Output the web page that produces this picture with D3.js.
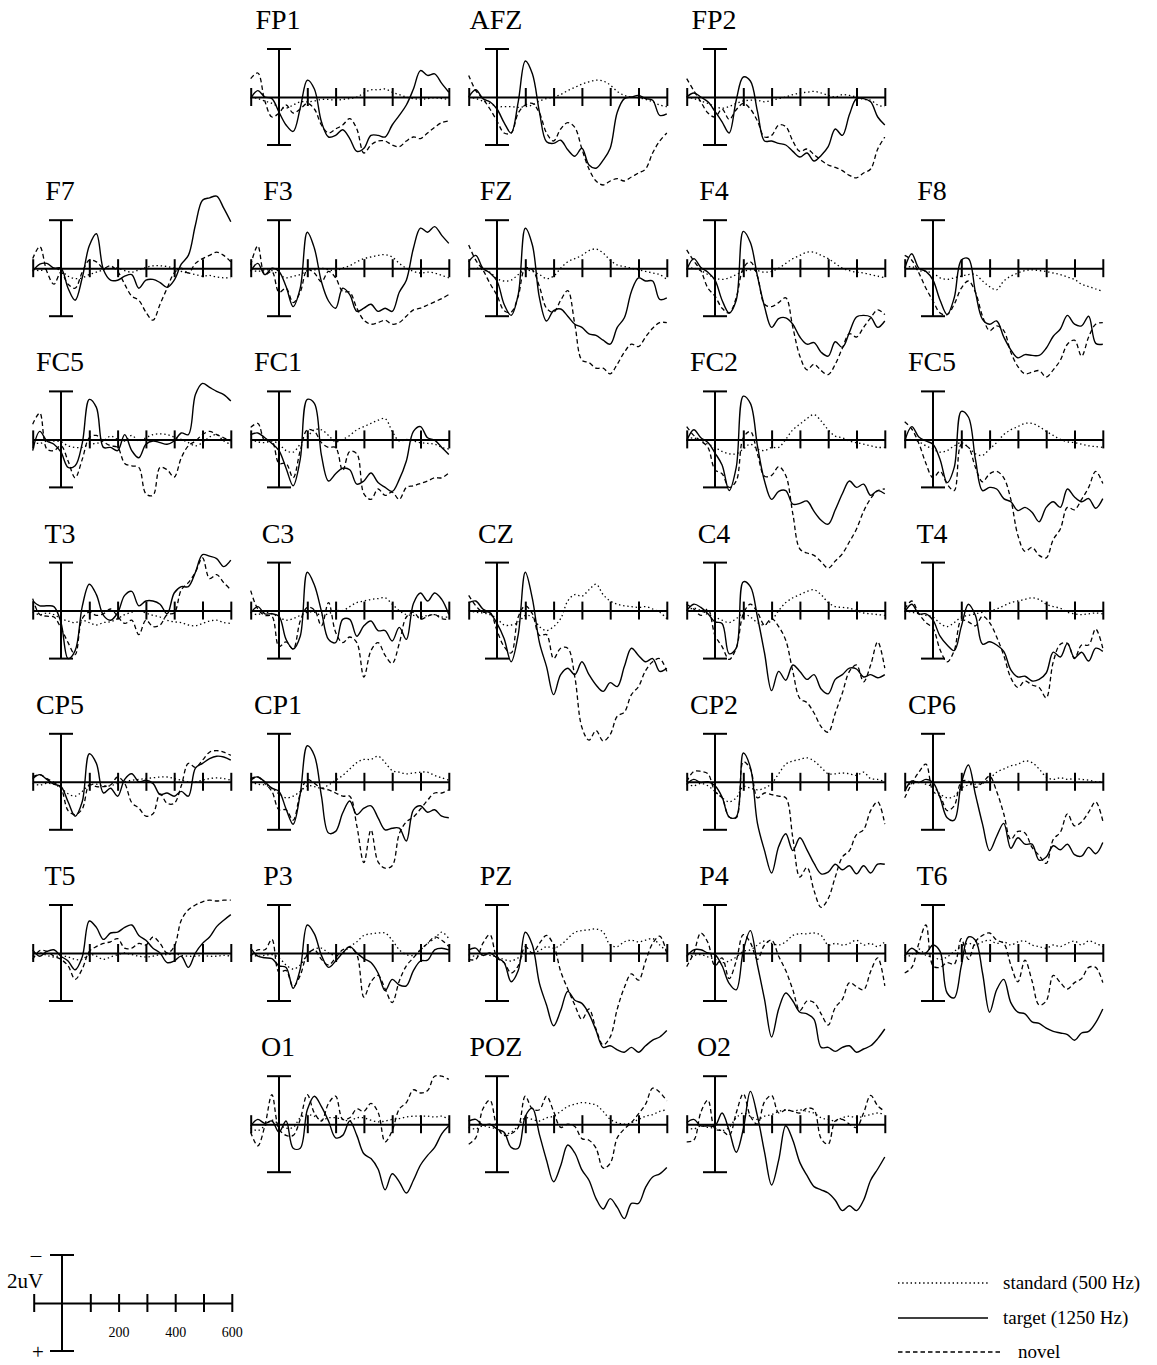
<!DOCTYPE html>
<html>
<head>
<meta charset="utf-8">
<script src="https://cdn.jsdelivr.net/npm/d3@7"></script>
<style>
  body { margin: 0; background: #fff; }
  svg { display: block; }
  text { font-family: "Liberation Serif", "Times New Roman", serif; fill: #000; }
</style>
</head>
<body>
<svg id="chart" width="1157" height="1365"></svg>
<script>
// time points (ms) shared by every curve
const times = [-100,-75,-50,-25,0,25,50,75,100,125,150,175,200,225,250,275,300,325,350,375,400,425,450,475,500,525,550,575,600];
const tickTimes = [-100,100,200,300,400,500,600];

// target (1250 Hz) - solid, uV (negative plotted up)
const target = {
  FP1: [0.2,-0.8,0,0.2,1.9,3.5,4.3,1.4,-2.1,-1.0,3.1,5.0,4.8,4.1,5.2,6.8,6.4,4.8,4.8,5.0,3.5,2.3,1.0,-1.0,-3.3,-2.7,-2.9,-1.7,-0.6],
  AFZ: [0,-0.9,0.2,0.6,1.5,3.2,4.5,0.6,-4.5,-2.9,1.9,5.6,5.8,5.4,6.6,7.4,6.4,8.5,8.9,7.9,6.4,1.9,0.2,0,-0.2,0.2,0.4,2.3,2.1],
  FP2: [0,-0.5,0,0.6,1.8,3.1,4.5,0.4,-2.5,-2.0,1.8,5.5,5.5,5.8,6.0,6.8,7.5,7.0,8.0,7.3,6.2,4.0,4.8,2.2,0.2,0.2,0.6,2.5,3.5],
  F7:  [0.4,-0.5,-0.6,0,0,2.5,4.0,1.2,-2.8,-4.3,0.2,1.5,1.5,1.0,0.8,2.5,1.5,1.4,1.8,2.4,1.5,-0.5,-1.6,-5.4,-8.5,-8.8,-9.0,-7.5,-5.8],
  F3:  [0.4,-0.6,0.8,0,0.4,2.3,4.8,2.5,-4.5,-2.5,1.7,4.1,5.0,2.5,3.3,5.4,5.0,4.5,5.4,5.0,5.4,3.0,1.5,-2.5,-5.0,-4.5,-5.2,-4.1,-3.1],
  FZ:  [-0.8,-1.6,0,0.6,1.6,4.5,5.9,3.3,-5.0,-2.9,3.7,6.6,5.3,5.1,6.0,7.0,7.4,8.2,8.4,9.0,9.5,7.4,6.2,2.9,1.2,1.6,1.6,3.9,3.7],
  F4:  [0.2,-1.2,-0.1,0.5,1.5,4.0,5.6,4.0,-4.6,-3.2,1.0,4.8,7.4,6.3,6.2,7.0,8.6,9.5,9.3,10.5,11.0,9.2,9.9,8.0,6.1,5.9,6.1,7.4,6.6],
  F8:  [0,-1.8,0,0.4,1.5,4.0,5.8,3.7,-1.0,-1.2,3.0,6.4,7.0,6.6,8.6,10.2,11.2,10.8,10.9,10.9,10.0,8.5,7.6,5.9,7.0,7.2,6.0,9.4,9.5],
  FC5: [1.4,-1.0,0.2,0.6,1.6,3.5,3.3,0.5,-5.0,-4.0,1.0,1.0,1.4,-0.6,1.4,2.3,0.6,0.2,0.4,0.6,0.2,-0.8,-0.6,-5.6,-7.0,-6.5,-6.0,-5.6,-4.8],
  FC1: [-0.6,-0.8,-0.2,0.5,1.4,3.6,5.8,2.5,-5.0,-4.5,2.0,5.2,4.3,3.6,3.8,5.6,5.2,4.2,5.4,6.0,6.5,5.0,2.7,-1.0,-1.6,-0.2,0.1,1.0,1.9],
  FC2: [0.2,-1.2,-0.2,0.4,1.7,3.2,6.4,3.5,-5.4,-4.5,0.8,5.2,7.5,6.5,6.4,8.1,8.0,7.7,9.0,10.1,10.6,8.8,6.8,5.2,6.0,5.6,7.0,6.4,6.8],
  FC6: [0.2,-1.6,-0.3,0.2,0.6,2.5,5.4,3.5,-3.5,-2.8,2.5,6.4,6.0,6.2,7.4,7.8,8.9,8.5,9.1,10.3,8.5,7.8,8.5,6.2,7.2,7.8,7.4,8.6,7.4],
  T3:  [-1.2,-0.6,-0.6,-0.5,1.5,6.0,5.0,-0.5,-3.3,-2.0,0.6,1.2,0.3,-1.9,-2.4,-0.6,-1.2,-1.2,-0.8,0.4,-2.2,-3.0,-3.0,-4.8,-7.0,-6.8,-6.5,-5.5,-6.3],
  C3:  [0.3,-0.5,0.4,0.4,0.7,3.6,4.8,3.2,-4.8,-3.2,0.1,3.6,4.0,1.1,1.1,3.2,1.9,1.3,2.5,2.5,3.8,2.1,3.6,-0.9,-2.2,-1.2,-2.2,-1.4,0.5],
  CZ:  [-1.0,-1.2,-0.2,0.3,1.6,3.5,6.4,3.0,-4.8,-1.5,4.0,7.0,10.5,8.0,7.2,8.0,6.4,8.0,9.3,10.1,9.0,9.5,7.0,4.7,5.6,6.4,6.0,7.6,7.2],
  C4:  [0,-0.8,-0.4,0.4,1.4,1.6,5.4,4.7,-3.6,-3.0,0.8,5.3,10.0,7.6,8.7,6.8,7.6,8.6,8.0,9.8,10.4,8.6,8.0,7.2,7.3,8.3,8.0,8.4,8.0],
  T4:  [0.2,-0.8,0.4,0.4,1.2,3.2,4.3,5.0,2.0,-0.8,0.6,4.2,3.9,4.3,5.1,7.4,8.3,8.2,8.8,8.6,7.8,5.2,5.8,4.1,5.9,5.2,6.3,4.7,5.1],
  CP5: [-0.4,-0.9,-0.3,0.3,0.6,2.5,4.3,2.5,-3.5,-2.3,1.4,0.8,1.8,-0.3,-1.0,0,-0.2,0.2,1.6,1.4,1.8,1.2,1.8,-1.7,-2.3,-2.9,-3.2,-3.1,-2.7],
  CP1: [-0.4,-0.6,0,0.8,1.2,3.4,5.3,1.5,-4.5,-3.3,1.8,6.4,6.2,3.9,2.4,4.1,3.3,3.0,4.5,6.0,5.8,5.8,7.4,3.5,3.0,3.8,3.5,4.3,4.5],
  CP2: [0.3,-0.3,0.1,0,0.5,1.9,4.4,4.4,-3.6,-1.8,5.2,8.6,11.4,8.1,6.5,8.6,7.0,8.5,10.2,11.5,11.3,10.3,11.0,10.5,11.5,10.5,11.4,10.3,10.3],
  CP6: [1.2,-0.1,0.1,-0.3,0.1,2.0,4.5,4.8,0.2,-2.1,1.6,5.3,8.6,6.8,5.2,8.3,7.0,7.8,7.8,9.8,9.4,8.0,8.5,7.8,9.1,9.3,8.2,9.0,7.6],
  T5:  [-0.4,0.4,-0.2,-0.4,0.4,1.0,2.1,0.5,-4.0,-3.2,-1.7,-2.5,-2.6,-3.2,-3.5,-2.2,-1.6,-0.6,0,1.2,1.0,0.4,1.8,0,-1.2,-2.0,-3.3,-4.1,-4.8],
  P3:  [-0.6,0.4,0.6,0.7,1.6,1.8,4.4,2.0,-3.5,-2.4,0.3,1.8,1.0,0,-0.8,0,0.7,1.2,2.5,4.7,3.3,4.0,4.1,2.2,1.0,0.9,-0.4,-0.6,-0.4],
  PZ:  [-0.4,-0.6,0.3,0,0.6,1.2,3.6,2.2,-2.6,-1.0,3.8,6.5,9.1,7.2,4.8,5.9,6.3,7.6,9.7,11.8,11.6,12.1,12.4,11.8,12.4,11.6,10.9,10.5,9.7],
  P4:  [0.4,-0.4,-0.4,0,0.2,1.6,3.8,4.6,-0.3,-2.8,1.5,5.8,10.5,7.0,5.0,6.0,7.4,7.6,8.3,11.8,11.8,12.3,11.8,11.6,12.4,12.0,11.6,10.7,9.5],
  T6:  [0.4,-0.6,0,0,-1.0,-0.2,5.0,5.6,1.6,-2.0,-1.6,2.5,7.4,4.6,3.3,6.2,7.4,7.6,8.6,8.8,9.4,9.8,10.0,10.2,10.9,10.0,9.8,8.7,7.0],
  O1:  [0.2,-0.6,-0.1,-0.4,1.0,-0.4,3.0,3.0,-1.8,-3.5,-2.2,-0.4,1.7,1.4,-0.4,1.4,3.7,4.3,5.6,8.2,6.2,7.2,8.6,7.0,5.1,3.9,2.9,1.2,0.2],
  POZ: [-0.4,-0.6,0.1,0,0.6,1.0,2.9,3.0,-1.0,-2.0,1.3,4.5,7.2,5.2,2.6,3.6,5.7,7.0,9.3,10.6,9.3,10.4,11.8,9.9,9.9,7.9,6.6,6.2,5.4],
  O2:  [-0.2,-0.6,0.2,0.2,0.2,-1.4,0.8,3.5,0.6,-4.1,-1.0,3.5,7.6,4.5,0.2,2.0,4.8,6.4,7.8,8.2,8.6,9.5,10.8,10.2,10.8,9.5,7.0,5.6,4.1]
};

// novel - dashed
const novel = {
  FP1: [-2.3,-3.0,0.5,2.5,2.0,1.0,2.0,1.5,0.8,1.5,3.5,4.5,4.0,3.5,2.7,4.0,7.0,6.0,5.5,5.5,6.0,6.2,5.5,5.0,5.2,4.5,3.8,3.2,3.0],
  AFZ: [-2.7,-0.8,0.2,1.5,3.0,4.5,4.5,2.0,1.0,0.8,2.0,4.5,5.5,4.0,3.2,3.8,6.5,9.0,10.5,11.0,10.5,10.2,10.5,10.0,9.5,9.0,7.0,5.5,4.5],
  FP2: [-2.3,-0.8,0.6,2.0,2.5,1.5,2.8,1.6,0.8,1.5,3.0,5.0,4.8,3.5,3.7,5.5,6.8,6.5,7.2,7.9,8.5,8.8,9.2,9.8,10.1,9.5,9.0,6.5,5.0],
  F7:  [-1.2,-2.7,0.4,2.0,0.5,2.0,2.5,0.5,-1.0,-0.8,0,-0.3,0.4,2.0,3.5,4.0,5.5,6.5,4.5,2.5,0.6,0,0.6,-0.6,-1.2,-1.6,-2.0,-1.6,-0.8],
  F3:  [-0.4,-2.8,0.8,0.4,3.0,2.5,4.3,3.0,0.2,0.6,1.7,0.4,1.2,2.9,3.0,5.0,6.5,7.0,6.8,6.5,7.0,6.8,6.0,5.2,5.0,4.6,4.2,3.8,3.3],
  FZ:  [-2.9,-1.0,0.2,1.9,3.4,5.3,5.5,3.5,0,0.2,2.3,5.0,5.5,4.0,2.8,7.0,11.5,11.8,12.5,12.5,13.2,12.0,10.5,9.5,9.8,8.6,7.5,6.8,6.8],
  F4:  [-2.3,-0.9,0.3,2.5,3.5,5.0,5.6,3.7,0,-0.8,1.0,4.5,4.8,4.3,3.7,7.4,11.0,12.7,12.0,12.8,13.3,12.0,10.0,8.2,8.6,7.4,6.2,5.2,5.8],
  F8:  [-1.6,-1.0,0.6,2.5,4.1,5.6,5.8,4.5,2.5,1.6,3.0,6.0,7.8,7.2,7.8,10.5,12.3,13.2,13.0,12.8,13.6,12.7,11.5,9.5,9.0,11.0,8.6,7.0,6.8],
  FC5: [-1.9,-3.3,1.2,1.4,0.8,2.7,4.8,2.5,-0.2,-0.5,0.3,0.8,1.0,3.0,3.3,3.5,6.8,7.0,3.5,3.8,4.7,2.3,0.8,0.2,-0.6,-1.0,-0.6,-0.2,0.2],
  FC1: [-1.5,-2.0,0.2,0.2,3.0,3.0,4.8,1.4,-1.2,-1.0,0.4,1.0,1.0,3.9,1.5,1.8,6.8,7.5,6.2,7.0,6.6,7.5,6.0,5.8,5.5,5.2,4.8,4.8,4.2],
  FC2: [-1.6,-0.5,0.2,1.0,3.8,4.3,6.0,5.2,-0.2,-1.0,1.8,4.6,4.5,3.4,4.5,9.3,13.7,14.2,14.5,15.3,16.1,15.2,14.3,12.8,11.2,9.0,7.4,6.4,6.2],
  FC6: [-2.2,-1.3,0.5,3.0,4.8,4.0,5.6,6.4,0.6,1.0,3.5,5.3,4.3,4.0,4.8,7.5,12.0,14.0,13.5,14.5,14.8,12.5,11.2,8.5,8.8,7.5,6.0,4.0,5.5],
  T3:  [-1.5,0.5,0.7,0.8,2.2,4.0,5.5,1.0,0.2,0.6,0.4,-0.2,0.7,1.6,1.2,3.0,1.2,2.0,1.8,0.5,0.3,-2.6,-3.5,-4.8,-6.6,-4.0,-4.5,-3.5,-2.6],
  C3:  [-2.5,-0.2,0.6,0.7,4.5,3.9,4.8,1.3,-0.4,-0.1,1.9,-1.0,2.7,4.0,3.3,4.0,8.3,5.0,4.0,5.6,6.6,4.1,0.8,0.2,1.1,0.7,0.5,1.0,1.1],
  CZ:  [-1.9,-0.6,0.2,0.2,2.5,4.5,5.3,0.8,-0.6,0.4,3.1,3.0,6.0,4.7,4.7,8.3,14.6,16.2,15.0,16.3,15.5,13.2,12.7,10.5,9.5,7.5,6.4,6.0,7.6],
  C4:  [-0.8,-0.2,0.6,-0.2,3.1,4.5,6.1,4.7,0.4,-0.8,0.2,1.8,1.0,2.0,3.7,7.6,11.0,11.5,12.8,14.5,15.2,12.8,10.3,7.6,6.8,8.9,6.8,3.9,7.2],
  T4:  [-0.2,-1.2,0.4,1.5,2.2,4.9,6.4,5.0,1.2,1.4,1.9,0.7,1.5,3.3,5.6,8.4,9.6,8.8,9.3,9.6,10.9,6.4,4.2,4.1,6.0,4.3,4.3,2.3,4.7],
  CP5: [-0.6,-0.9,-0.4,0.1,0.8,3.6,4.1,3.4,0.4,0.6,0.6,0.4,-0.6,0.2,2.6,3.3,4.3,4.0,1.5,2.7,2.7,0.5,-2.3,-1.8,-2.7,-3.7,-3.9,-3.7,-3.3],
  CP1: [-0.2,-0.6,0.2,1.2,3.5,3.5,4.8,1.5,-0.3,0.2,0.8,1.0,1.4,1.8,1.8,5.5,10.1,6.0,10.0,10.8,10.5,6.5,5.0,4.4,3.4,2.3,1.4,1.4,1.0],
  CP2: [0,-1.3,-1.3,-1.0,1.2,2.0,4.4,4.5,-2.5,-1.6,2.0,1.4,1.6,1.8,2.0,7.0,11.9,10.7,13.6,15.7,14.6,11.9,9.4,8.6,6.6,6.0,3.6,2.5,5.3],
  CP6: [2.0,0.2,-1.2,-2.2,1.2,1.8,3.6,3.0,0,-0.1,0.7,0.1,-0.7,1.2,4.0,7.2,6.2,6.4,8.2,9.2,10.2,7.2,6.3,4.0,5.5,5.0,3.8,2.5,4.9],
  T5:  [0.8,-0.3,-0.2,0.4,0.8,1.6,3.3,2.0,-0.2,-0.8,-1.2,-1.4,-1.8,-0.6,-0.6,-1.2,-1.0,-2.0,-1.2,0,-0.8,-4.1,-5.4,-6.0,-6.4,-6.6,-6.5,-6.6,-6.6],
  P3:  [0.4,-0.4,-0.4,-1.7,2.4,2.2,4.2,2.8,0.2,-0.4,0.8,1.5,0.6,-0.4,-0.7,0.2,5.5,3.6,2.8,4.5,6.2,3.5,1.6,0.6,-0.4,-1.2,-2.0,-1.6,-0.8],
  PZ:  [0.8,0.8,-1.2,-2.3,0.6,1.2,2.5,1.6,-0.8,0,-1.2,-2.2,-1.0,2.3,4.5,6.5,8.3,7.0,9.5,11.5,10.5,7.0,4.3,2.6,3.4,1.0,-1.2,-2.1,0],
  P4:  [1.7,0,-2.5,-1.3,1.6,0.6,3.2,1.0,-2.3,-1.3,0.8,-1.0,-1.6,0.4,2.2,4.6,7.2,6.0,6.2,7.6,9.0,6.8,5.8,3.7,4.2,4.6,2.3,0.6,4.1],
  T6:  [2.5,1.8,-1.2,-3.5,1.6,1.8,1.2,1.4,-1.8,0.8,-1.4,-2.2,-2.5,-1.6,-1.2,1.5,3.6,0.9,3.5,6.5,6.0,2.8,3.7,4.5,3.7,3.2,1.8,1.8,3.7],
  O1:  [1.0,2.7,0.2,-3.7,0.6,1.4,1.4,-0.6,-3.7,-1.4,-0.4,-2.6,-3.5,-0.6,-0.8,-1.9,-1.6,-2.6,-1.5,2.2,0.8,-1.9,-2.7,-4.3,-3.9,-4.2,-6.0,-6.0,-5.6],
  POZ: [2.5,1.7,-1.9,-3.0,0.3,1.4,1.2,0.4,-3.5,-1.9,-1.8,-3.5,-1.6,0.4,0,0.3,1.8,2.0,3.0,5.5,4.9,1.7,0.6,-0.2,-1.3,-2.5,-4.5,-4.0,-2.9],
  O2:  [2.2,2.0,-1.5,-3.0,0.6,0.8,1.4,-1.4,-3.8,-1.0,0,-2.8,-3.6,-1.4,-1.8,-1.6,-1.4,-2.0,-1.8,1.8,2.5,-0.4,-0.6,0,0.4,-1.4,-3.6,-2.3,-1.6]
};

// standard (500 Hz) - dotted
const standard = {
  FP1: [0,0.2,0.5,0.8,1.2,1.4,1.0,0.6,0.6,0.5,0.3,0.3,0.4,0.3,0.2,0,-0.5,-0.9,-0.9,-1.0,-0.6,-0.3,0,0.2,0.3,0.2,0.1,0.2,0.3],
  AFZ: [0,0.2,0.5,0.8,1.2,1.2,1.2,1.3,1.2,1.0,0.5,0.2,0,-0.3,-0.8,-1.2,-1.6,-1.9,-2.1,-2.0,-1.5,-0.7,-0.2,0,0.1,0.3,0.6,1.0,1.2],
  FP2: [0,0.2,0.5,0.8,1.2,1.4,1.2,0.8,0.5,0.4,0.4,0.6,0.4,0.2,0,-0.3,-0.5,-0.6,-0.7,-0.5,-0.2,0,-0.3,-0.2,0,0.3,0.4,1.0,1.2],
  F7:  [0.2,0.3,0.1,0,0.3,1.0,1.3,1.2,0.8,0.5,0.2,0,0,0.3,0.5,0.2,-0.1,-0.3,-0.3,-0.2,0,0.4,0.6,0.8,1.0,0.9,1.1,1.2,1.2],
  F3:  [0.2,0.4,0.2,0.3,0.8,1.2,1.0,0.8,0.3,0.2,0,0.2,0.3,0,-0.3,-0.8,-1.2,-1.4,-1.6,-1.7,-1.4,-0.6,0,0.4,0.6,0.5,0.6,0.9,1.2],
  FZ:  [0.2,0,0.2,0.5,1.3,1.6,1.5,0.8,0.2,0.4,0.8,1.3,1.0,0,-0.8,-1.2,-1.6,-2.2,-2.4,-1.9,-1.0,-0.4,-0.2,0,0.2,0.4,0.6,0.8,1.4],
  F4:  [0,0,0.3,0.8,1.2,1.4,1.2,0.8,0.4,0.2,0.3,0.5,0.4,0,-0.6,-1.2,-1.6,-2.0,-2.0,-1.6,-1.2,-0.6,0,0.3,0.5,0.6,0.8,1.0,1.2],
  F8:  [0,-0.2,0.3,0.4,0.6,1.2,1.4,1.2,1.0,0.8,0.8,1.6,2.3,2.7,1.6,1.0,0.6,0.3,0.2,0.3,0.4,0.6,0.8,1.1,1.4,2.0,2.3,2.6,2.9],
  FC5: [0.3,0.5,0.2,0.2,0.3,0.8,1.0,1.0,0.6,0.5,0.2,-0.4,0,0.2,-0.5,0.2,-0.2,-0.6,-0.7,-0.6,-0.3,0,0.4,0.8,0.4,-0.3,-0.6,0.2,0.6],
  FC1: [0,0.3,0.4,0.2,0.6,1.4,1.6,0.6,-0.3,-1.2,-1.2,-0.5,0.3,0,-0.5,-1.2,-1.6,-2.0,-2.4,-2.6,-1.0,0.2,0,0.2,0.4,0.5,0.6,1.0,1.2],
  FC2: [0,-0.2,0.2,0.6,1.0,1.5,1.8,1.8,1.2,0.6,1.2,1.4,1.0,1.0,0,-1.2,-1.9,-2.6,-3.1,-2.3,-1.2,-0.4,-0.2,0.2,0.4,0.6,0.8,1.0,1.0],
  FC6: [0.2,0,0.3,0.8,1.2,1.6,1.4,0.8,0.4,1.0,1.8,2.0,1.2,0.4,-0.6,-1.2,-1.6,-2.0,-2.0,-1.6,-1.0,-0.5,0,0.3,0.4,0.6,0.8,0.9,1.0],
  T3:  [0.2,0.5,0.3,0.5,1.0,1.3,1.5,1.2,1.5,1.8,1.5,1.4,1.0,0.5,0.2,0,0.3,0.6,0.8,1.2,1.4,1.5,1.8,1.9,1.6,1.3,1.2,1.5,1.6],
  C3:  [0.3,0.5,0.2,0.4,0.8,1.2,1.0,0.6,0.2,0.2,0.6,0.4,0,0,-0.5,-1.0,-1.2,-1.4,-1.5,-1.6,-0.8,0,0.5,0.6,0.8,0.6,0.5,0.8,0.8],
  CZ:  [0,0.2,0.3,0.5,1.0,1.8,1.8,1.5,0.6,0.8,2.0,2.5,2.0,1.0,-1.2,-2.0,-1.8,-2.6,-3.3,-2.0,-1.2,-0.8,-0.6,-0.5,-0.4,-0.5,-0.2,0.2,1.0],
  C4:  [0,-0.3,0,0.5,0.8,1.2,1.5,1.0,0.4,0.8,1.5,1.8,1.2,0,-1.0,-1.6,-2.0,-2.4,-2.6,-2.0,-1.0,-0.5,-0.4,-0.3,0,0.3,0.4,0.5,0.6],
  T4:  [0,0.2,0.4,0.6,0.8,1.6,2.0,1.5,0.8,0.6,0.4,0.2,0,-0.2,-0.6,-1.0,-1.2,-1.4,-1.6,-1.4,-0.8,-0.5,-0.3,0.2,0.4,0.5,0.4,0.3,0.4],
  CP5: [0.2,0.4,0.2,0.3,0.8,1.5,1.8,1.2,0.4,0.3,0.5,0.5,0.2,0,-0.2,-0.3,-0.4,-0.5,-0.6,-0.6,-0.4,-0.2,0,0,-0.2,-0.4,-0.5,-0.4,-0.2],
  CP1: [0,0.3,0.4,0.8,1.5,2.0,1.8,1.2,0.5,0.6,0.8,0.4,-0.2,-0.8,-1.6,-2.4,-2.8,-2.8,-3.2,-2.4,-1.4,-1.2,-1.0,-1.1,-1.2,-1.2,-0.8,-0.5,-0.2],
  CP2: [0.3,0.5,0.2,0.5,1.2,2.0,2.5,2.0,0.6,0.8,1.0,0.8,0.2,-1.0,-2.2,-2.6,-2.8,-3.0,-2.6,-1.8,-1.0,-1.0,-1.1,-1.0,-0.8,-1.2,-0.4,-0.3,0],
  CP6: [0.2,0.3,0,0.3,0.6,1.5,2.0,1.8,0.8,0.4,0.3,0.2,-0.4,-1.2,-1.6,-2.0,-2.2,-2.6,-2.4,-1.6,-0.6,-0.3,-0.5,-0.3,-0.4,-0.3,-0.2,0,0],
  T5:  [0.4,0,0.3,0.5,0.3,0.5,0.8,0.8,0.2,0.4,0.8,0.5,0.2,0,0.2,0.4,0.5,0.4,0.2,0.2,0.1,0.3,0.4,0.4,0.3,0.4,0.4,0.3,0.4],
  P3:  [0.2,0.4,0.3,0.2,0.6,1.5,2.0,1.5,0.2,-0.5,-0.6,0,0.3,0,-0.8,-1.4,-2.2,-2.4,-2.5,-2.5,-1.6,-0.4,0.2,0.3,-0.4,-1.2,-1.8,-2.6,-1.8],
  PZ:  [0.2,0.4,0.2,0.3,0.5,0.8,1.0,0.6,0.2,0,-0.3,-0.8,-0.6,-1.0,-1.8,-2.6,-2.8,-2.9,-3.0,-2.6,-1.0,-0.8,-1.4,-1.6,-1.4,-1.6,-1.8,-1.0,-0.2],
  P4:  [0.5,0.3,0.2,0.5,0.8,1.2,1.0,0.5,-0.2,-0.4,-1.0,-1.5,-1.2,-1.0,-1.4,-2.2,-2.4,-2.4,-2.5,-2.2,-1.0,-1.2,-1.0,-1.2,-1.6,-1.0,-1.2,-0.8,-1.4],
  T6:  [0.6,0.2,-0.5,0.3,0.5,0.8,0.5,-0.2,-0.8,-1.2,-1.0,-1.4,-1.6,-1.2,-1.4,-1.0,-1.4,-1.5,-1.0,-0.8,-0.6,-1.0,-0.8,-1.2,-1.5,-1.0,-1.5,-1.2,-0.8],
  O1:  [0.5,0.8,0.2,-0.5,0,0.5,0.4,-0.8,-1.2,-1.0,-0.5,-0.8,-0.8,-0.6,-0.4,-0.8,-0.8,-0.5,-0.3,-0.4,-0.6,-0.7,-0.9,-1.0,-1.0,-1.0,-0.9,-1.0,-0.6],
  POZ: [0.4,0.6,0.2,0.4,0.6,1.2,1.0,0.2,-0.8,-0.6,-0.4,-0.8,-1.0,-1.6,-2.2,-2.5,-2.7,-2.6,-2.4,-1.6,-0.6,-0.2,0,-0.2,-0.6,-1.0,-1.2,-1.6,-1.8],
  O2:  [0.4,0.6,0.2,0.4,0.5,0.8,0.4,-0.8,-1.4,-1.0,-0.6,-1.0,-1.2,-1.6,-1.8,-1.6,-1.8,-1.6,-1.4,-0.8,-0.6,-0.4,-0.8,-1.0,-0.8,-1.0,-1.2,-1.4,-1.2]
};

// panel titles as printed (the right-hand fronto-central site is labelled FC5 in the original)
const labels = { FC6: "FC5" };

// montage grid: rows top to bottom, five columns
const grid = [
  [null, "FP1", "AFZ", "FP2", null],
  ["F7", "F3", "FZ", "F4", "F8"],
  ["FC5", "FC1", null, "FC2", "FC6"],
  ["T3", "C3", "CZ", "C4", "T4"],
  ["CP5", "CP1", null, "CP2", "CP6"],
  ["T5", "P3", "PZ", "P4", "T6"],
  [null, "O1", "POZ", "O2", null]
];

const svg = d3.select("#chart");
const MS_PX = 0.283;   // px per ms
const HALF = 48;       // half height of the uV bar, px
const UV_HALF = 6;     // uV at bar end
const colX = c => 61 + 218 * c;
const rowY = r => 97 + 171.2 * r;

function makeScales(cx, cy) {
  const x = d3.scaleLinear().domain([-100, 600]).range([cx - 100 * MS_PX, cx + 600 * MS_PX]);
  const y = d3.scaleLinear().domain([-UV_HALF, UV_HALF]).range([cy - HALF, cy + HALF]);
  return { x, y };
}

function drawFrame(g, x, y, cy, labelTicks) {
  const axis = d3.axisBottom(x).tickValues(tickTimes).tickSize(9).tickSizeOuter(0)
    .tickFormat(d => (labelTicks && labelTicks.includes(d)) ? d : "");
  const ax = g.append("g").attr("transform", `translate(0,${cy})`).call(axis);
  ax.attr("font-family", null).attr("font-size", null);
  ax.select(".domain").attr("stroke", "#000").attr("stroke-width", 2);
  ax.selectAll(".tick line").attr("y1", -9).attr("y2", 9).attr("stroke", "#000").attr("stroke-width", 2);
  ax.selectAll(".tick text").attr("y", 24).attr("dy", "0.71em").style("font-size", "14px");

  // uV bar at time zero with caps
  const x0 = x(0);
  g.append("line").attr("x1", x0).attr("x2", x0).attr("y1", y(-UV_HALF)).attr("y2", y(UV_HALF))
    .attr("stroke", "#000").attr("stroke-width", 2);
  [-UV_HALF, UV_HALF].forEach(v => {
    g.append("line").attr("x1", x0 - 12).attr("x2", x0 + 12).attr("y1", y(v)).attr("y2", y(v))
      .attr("stroke", "#000").attr("stroke-width", 2);
  });
}

const styles = [
  { data: standard, dash: "1.4,2.8", width: 1.3 },
  { data: novel, dash: "4.5,3", width: 1.3 },
  { data: target, dash: null, width: 1.4 }
];

grid.forEach((row, r) => {
  row.forEach((id, c) => {
    if (!id) return;
    const cx = colX(c), cy = rowY(r);
    const { x, y } = makeScales(cx, cy);
    const g = svg.append("g").attr("class", "panel");

    g.append("text").attr("x", cx - 1).attr("y", cy - 68)
      .attr("text-anchor", "middle").style("font-size", "28px")
      .text(labels[id] || id);

    const line = d3.line()
      .x((d, i) => x(times[i]))
      .y(d => y(d))
      .curve(d3.curveCatmullRom.alpha(0.5));

    styles.forEach(s => {
      g.append("path").datum(s.data[id])
        .attr("d", line)
        .attr("fill", "none")
        .attr("stroke", "#000")
        .attr("stroke-width", s.width)
        .attr("stroke-dasharray", s.dash);
    });

    drawFrame(g, x, y, cy, null);
  });
});

// scale key (bottom left)
{
  const cx = 62, cy = 1303;
  const { x, y } = makeScales(cx, cy);
  const g = svg.append("g").attr("class", "key");
  drawFrame(g, x, y, cy, [200, 400, 600]);
  g.append("text").attr("x", 36).attr("y", 1262).attr("text-anchor", "middle").style("font-size", "21px").text("\u2013");
  g.append("text").attr("x", 38).attr("y", 1359).attr("text-anchor", "middle").style("font-size", "21px").text("+");
  g.append("text").attr("x", 7).attr("y", 1288).style("font-size", "21px").text("2uV");
}

// line legend (bottom right)
const legendItems = [
  { name: "standard (500 Hz)", dash: "1.4,2.8", x2: 988, tx: 1003, y: 1283 },
  { name: "target (1250 Hz)", dash: null, x2: 988, tx: 1003, y: 1318 },
  { name: "novel", dash: "4.5,3", x2: 1000, tx: 1018, y: 1352 }
];
const lg = svg.append("g").attr("class", "legend");
legendItems.forEach(d => {
  lg.append("line").attr("x1", 898).attr("x2", d.x2).attr("y1", d.y).attr("y2", d.y)
    .attr("stroke", "#000").attr("stroke-width", 1.3).attr("stroke-dasharray", d.dash);
  lg.append("text").attr("x", d.tx).attr("y", d.y + 6).style("font-size", "19px").text(d.name);
});
</script>
</body>
</html>
